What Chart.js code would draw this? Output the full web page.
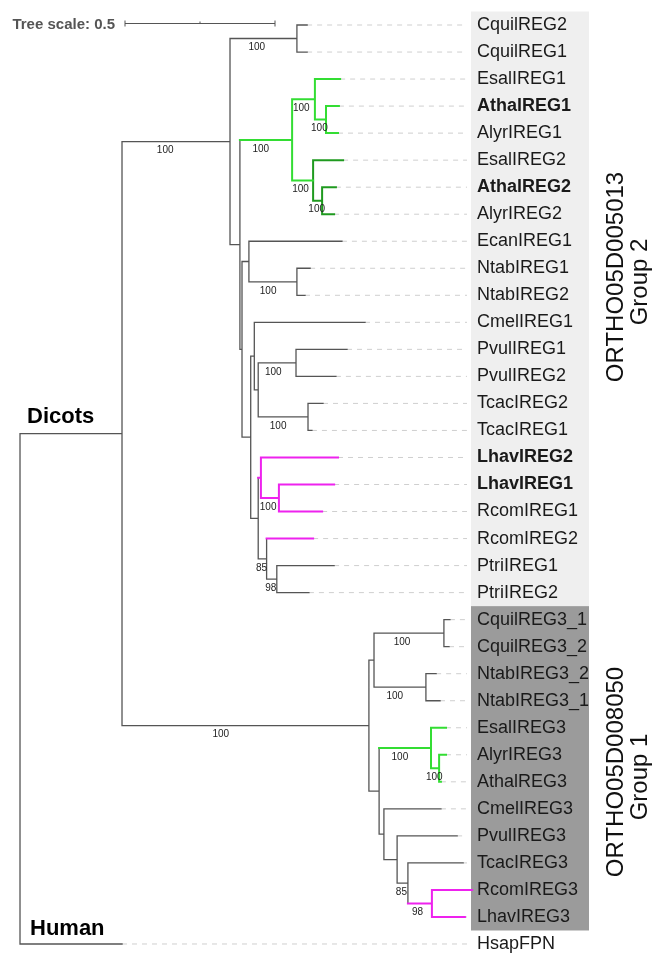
<!DOCTYPE html>
<html>
<head>
<meta charset="utf-8">
<script src="https://cdn.jsdelivr.net/npm/chart.js@4/dist/chart.umd.min.js"></script>
<style>
  html, body { margin: 0; padding: 0; background: #fff; }
  canvas { display: block; }
</style>
</head>
<body>
<canvas id="tree" width="654" height="954"></canvas>
<script>
// leaves from top to bottom, and where each tip ends (tree distance)
const leaves = [
  'CquilREG2', 'CquilREG1', 'EsalIREG1', 'AthalREG1', 'AlyrIREG1', 'EsalIREG2',
  'AthalREG2', 'AlyrIREG2', 'EcanIREG1', 'NtabIREG1', 'NtabIREG2', 'CmelIREG1',
  'PvulIREG1', 'PvulIREG2', 'TcacIREG2', 'TcacIREG1', 'LhavIREG2', 'LhavIREG1',
  'RcomIREG1', 'RcomIREG2', 'PtriIREG1', 'PtriIREG2', 'CquilREG3_1', 'CquilREG3_2',
  'NtabIREG3_2', 'NtabIREG3_1', 'EsalIREG3', 'AlyrIREG3', 'AthalREG3', 'CmelIREG3',
  'PvulIREG3', 'TcacIREG3', 'RcomIREG3', 'LhavIREG3', 'HsapFPN'
]
const tipX = [
  0.957, 0.957, 1.067, 1.063, 1.060, 1.077,
  1.053, 1.047, 1.073, 0.967, 0.950, 1.150,
  1.090, 1.053, 1.010, 0.973, 1.060, 1.047,
  1.007, 0.977, 1.047, 0.963, 1.433, 1.430,
  1.387, 1.400, 1.420, 1.420, 1.403, 1.403,
  1.457, 1.477, 1.507, 1.483, 0.340
]
const boldLeaves = ['AthalREG1', 'AthalREG2', 'LhavIREG2', 'LhavIREG1']

// internal nodes
const nodeNames = ['R', 'D', 'G2', 'CQ', 'A', 'GR', 'GR1', 'AA1', 'GR2', 'AA2', 'B', 'C', 'NT', 'E', 'F', 'G', 'PV', 'TC',
  'H', 'M', 'M2', 'P', 'Q', 'G1', 'I', 'CQ3', 'NT3', 'J', 'K', 'K2', 'L', 'N', 'O', 'RL']
const nodeX = [0, 0.340, 0.700, 0.923, 0.733, 0.907, 0.983, 1.020, 0.977, 1.007, 0.740, 0.763, 0.923, 0.769, 0.781, 0.794, 0.920, 0.960,
  0.794, 0.803, 0.863, 0.822, 0.856, 1.163, 1.180, 1.413, 1.353, 1.197, 1.370, 1.397, 1.213, 1.257, 1.293, 1.373]
const nodeSupport = [null, null, 100, 100, null, 100, 100, 100, 100, 100, null, null, 100, null, null, null, 100, 100,
  null, null, 100, 85, 98, 100, null, 100, 100, null, 100, 100, null, null, 85, 98]
const nodeKids = [
  ['D', 'HsapFPN'], ['G2', 'G1'], ['CQ', 'A'], ['CquilREG2', 'CquilREG1'], ['GR', 'B'],
  ['GR1', 'GR2'], ['EsalIREG1', 'AA1'], ['AthalREG1', 'AlyrIREG1'], ['EsalIREG2', 'AA2'], ['AthalREG2', 'AlyrIREG2'],
  ['C', 'E'], ['EcanIREG1', 'NT'], ['NtabIREG1', 'NtabIREG2'], ['F', 'H'], ['CmelIREG1', 'G'],
  ['PV', 'TC'], ['PvulIREG1', 'PvulIREG2'], ['TcacIREG2', 'TcacIREG1'], ['M', 'P'], ['LhavIREG2', 'M2'],
  ['LhavIREG1', 'RcomIREG1'], ['RcomIREG2', 'Q'], ['PtriIREG1', 'PtriIREG2'], ['I', 'J'], ['CQ3', 'NT3'],
  ['CquilREG3_1', 'CquilREG3_2'], ['NtabIREG3_2', 'NtabIREG3_1'], ['K', 'L'], ['EsalIREG3', 'K2'], ['AlyrIREG3', 'AthalREG3'],
  ['CmelIREG3', 'N'], ['PvulIREG3', 'O'], ['TcacIREG3', 'RL'], ['RcomIREG3', 'LhavIREG3']
]

const groupNames = ['ORTHO05D005013', 'ORTHO05D008050']
const groupSubs = ['Group 2', 'Group 1']
const groupFrom = [0, 22]
const groupTo = [21, 33]
const treeScale = 0.5

// styles
const grey = '#555555'
const lime = '#33dd33'
const darkGreen = '#1f9a1f'
const magenta = '#ee22ee'
const groupFill = ['#efefef', '#9b9b9b']
const cladeColour = { GR: lime, GR2: darkGreen, M: magenta, K: lime, RL: magenta }
const stemColour = { GR: lime, M: magenta, K: lime, RL: magenta, RcomIREG2: magenta }
const font = 'Liberation Sans, Arial, sans-serif'

const isLeaf = n => leaves.includes(n)
const xOf = n => isLeaf(n) ? tipX[leaves.indexOf(n)] : nodeX[nodeNames.indexOf(n)]
const kidsOf = n => nodeKids[nodeNames.indexOf(n)]
function yOf(n) {
  if (isLeaf(n)) return leaves.indexOf(n)
  const k = kidsOf(n)
  return (yOf(k[0]) + yOf(k[k.length - 1])) / 2
}

const segs = {}
const parentX = {}
function addSeg(col, x1, y1, x2, y2) {
  if (!segs[col]) segs[col] = []
  segs[col].push({ x: x1, y: y1 }, { x: x2, y: y2 }, { x: null, y: null })
}
function walk(name, px, inherited) {
  const x = xOf(name), y = yOf(name)
  if (px !== null) {
    parentX[name] = px
    addSeg(stemColour[name] || inherited, px, y, x, y)
  }
  if (isLeaf(name)) return
  const own = cladeColour[name] || inherited
  const k = kidsOf(name)
  addSeg(own, x, yOf(k[0]), x, yOf(k[k.length - 1]))
  k.forEach(c => walk(c, x, own))
}
walk('R', null, grey)

const dashed = []
leaves.forEach((l, i) => {
  if (tipX[i] < 1.49) dashed.push({ x: tipX[i], y: i }, { x: 1.49, y: i }, { x: null, y: null })
})

const datasets = [{
  data: dashed, borderColor: '#cfcfcf', borderWidth: 1, borderDash: [5, 5],
  pointRadius: 0, order: 10, clip: false, spanGaps: false
}]
Object.keys(segs).forEach(col => {
  datasets.push({
    data: segs[col], borderColor: col, borderWidth: col === grey ? 1.3 : 2,
    borderCapStyle: 'square', pointRadius: 0, order: col === grey ? 5 : 1, clip: false, spanGaps: false
  })
})

const treeDecor = {
  id: 'treeDecor',
  beforeDraw(chart) {
    const { ctx, chartArea } = chart
    const y = chart.scales.y
    ctx.save()
    ctx.fillStyle = '#fff'
    ctx.fillRect(0, 0, chart.width, chart.height)
    groupFrom.forEach((f, i) => {
      const top = y.getPixelForValue(f - 0.5)
      const bottom = y.getPixelForValue(groupTo[i] + 0.5)
      ctx.fillStyle = groupFill[i]
      ctx.fillRect(chartArea.right, top, 118, bottom - top)
    })
    ctx.restore()
  },
  afterDatasetsDraw(chart) {
    const { ctx } = chart
    const x = chart.scales.x, y = chart.scales.y
    ctx.save()

    // bootstrap values
    ctx.fillStyle = '#222'
    ctx.font = '10px ' + font
    ctx.textAlign = 'center'
    ctx.textBaseline = 'middle'
    nodeNames.forEach((n, i) => {
      if (nodeSupport[i] === null) return
      const px = parentX[n]
      const lx = x.getPixelForValue(px + 0.4 * (nodeX[i] - px))
      ctx.fillText(String(nodeSupport[i]), lx, y.getPixelForValue(yOf(n)) + 9)
    })

    // clade names
    ctx.fillStyle = '#000'
    ctx.font = 'bold 22px ' + font
    ctx.textAlign = 'left'
    ctx.textBaseline = 'alphabetic'
    ctx.fillText('Dicots', 27, 423)
    ctx.fillText('Human', 30, 935)

    // tree scale
    const s0 = x.getPixelForValue(0.35), s1 = x.getPixelForValue(0.35 + treeScale)
    const sy = 23.5
    ctx.strokeStyle = '#555'
    ctx.lineWidth = 1
    ctx.beginPath()
    ctx.moveTo(s0, sy); ctx.lineTo(s1, sy)
    ctx.moveTo(s0, sy - 3); ctx.lineTo(s0, sy + 3)
    ctx.moveTo(s1, sy - 3); ctx.lineTo(s1, sy + 3)
    ctx.moveTo((s0 + s1) / 2, sy - 2); ctx.lineTo((s0 + s1) / 2, sy)
    ctx.stroke()
    ctx.fillStyle = '#555'
    ctx.font = 'bold 15px ' + font
    ctx.textAlign = 'right'
    ctx.fillText('Tree scale: ' + treeScale, s0 - 10, 29)

    // group names, rotated
    const centres = [[277, 282], [772, 777]]
    ctx.fillStyle = '#111'
    ctx.font = '24px ' + font
    ctx.textAlign = 'center'
    groupNames.forEach((g, i) => {
      ctx.save()
      ctx.translate(623, centres[i][0])
      ctx.rotate(-Math.PI / 2)
      ctx.fillText(g, 0, 0)
      ctx.restore()
      ctx.save()
      ctx.translate(647, centres[i][1])
      ctx.rotate(-Math.PI / 2)
      ctx.fillText(groupSubs[i], 0, 0)
      ctx.restore()
    })
    ctx.restore()
  }
}

new Chart(document.getElementById('tree'), {
  type: 'line',
  data: { datasets },
  options: {
    responsive: false,
    animation: false,
    devicePixelRatio: 1,
    events: [],
    layout: { padding: 0 },
    plugins: { legend: { display: false }, tooltip: { enabled: false } },
    scales: {
      x: { type: 'linear', display: false, min: -0.0667, max: 1.5033 },
      y: {
        type: 'linear',
        position: 'right',
        reverse: true,
        min: -0.925,
        max: 34.37,
        grid: { display: false, drawTicks: false },
        border: { display: false },
        afterBuildTicks: s => { s.ticks = leaves.map((_, i) => ({ value: i })) },
        afterFit: s => {
          s.width = 183
          s.paddingTop = 0
          s.paddingBottom = 0
        },
        ticks: {
          autoSkip: false,
          padding: 6,
          color: '#1a1a1a',
          callback: v => leaves[v],
          font: c => ({
            family: font,
            size: 18,
            weight: c.tick && boldLeaves.includes(leaves[c.tick.value]) ? 'bold' : 'normal'
          })
        }
      }
    }
  },
  plugins: [treeDecor]
})
</script>
</body>
</html>
